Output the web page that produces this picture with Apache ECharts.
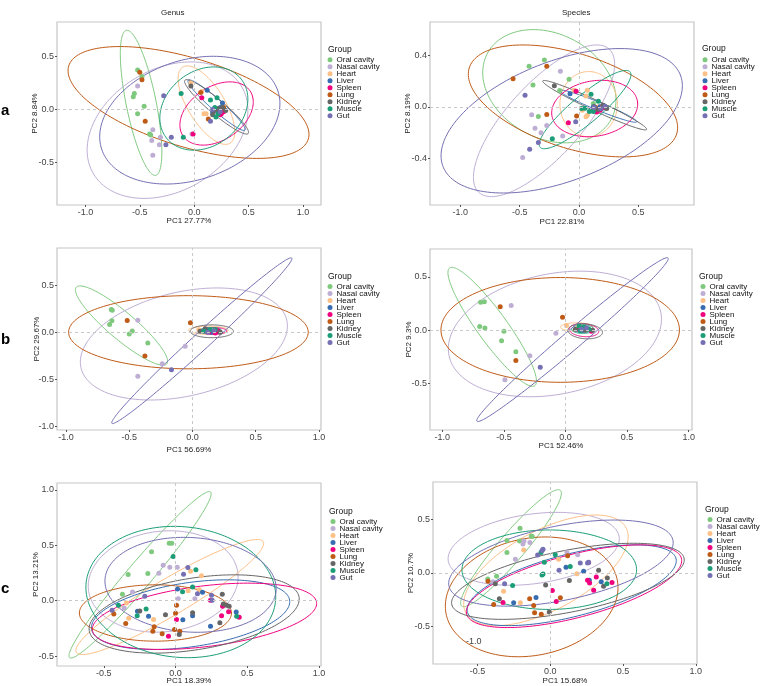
<!DOCTYPE html>
<html><head><meta charset="utf-8">
<script src="https://cdn.jsdelivr.net/npm/echarts@6/dist/echarts.min.js"></script>
<style>html,body{margin:0;padding:0;background:#fff}#c{width:760px;height:686px}</style>
</head><body><div id="c"></div>
<script>
const groups = ['Oral cavity','Nasal cavity','Heart','Liver','Spleen','Lung','Kidney','Muscle','Gut'];
const colors = ['#7FC97F','#BEAED4','#FDC086','#386CB0','#F0027F','#BF5B17','#666666','#1B9E77','#7570B3'];
const panelTitles = ['Genus','Species'];
const rowLabels = ['a','b','c'];
const xNames = ['PC1 27.77%','PC1 22.81%','PC1 56.69%','PC1 52.46%','PC1 18.39%','PC1 15.68%'];
const yNames = ['PC2 8.84%','PC2 8.19%','PC2 29.67%','PC2 9.3%','PC2 13.21%','PC2 10.7%'];
const xTicks = [[-1,-0.5,0,0.5,1],[-1,-0.5,0,0.5],[-1,-0.5,0,0.5,1],[-1,-0.5,0,0.5,1],[-0.5,0,0.5,1],[-0.5,0,0.5,1]];
const yTicks = [[-0.5,0,0.5],[-0.4,0,0.4],[-1,-0.5,0,0.5],[-0.5,0,0.5],[-0.5,0,0.5,1],[-0.5,0,0.5]];
const xRange = [[-1.261,1.166],[-1.256,0.969],[-1.071,1.016],[-1.1,1.027],[-0.826,1.014],[-0.806,1.008]];
const yRange = [[-0.897,0.822],[-0.761,0.658],[-1.036,0.9],[-0.937,0.763],[-0.589,1.061],[-0.854,0.854]];

// points per group (order of `groups`)
const ptsGenusA = [
 [[-0.52,0.37],[-0.48,0.31],[-0.55,0.15],[-0.56,0.12],[-0.46,0.03],[-0.52,-0.04],[-0.41,-0.23],[-0.40,-0.24]],
 [[-0.52,0.22],[-0.38,-0.19],[-0.31,-0.26],[-0.39,-0.29],[-0.32,-0.33],[-0.38,-0.43],[-0.02,-0.23]],
 [[-0.03,0.25],[0.07,0.17],[0.09,-0.04],[0.11,-0.04],[0.21,-0.01],[0.27,0.03]],
 [[0.12,0.18],[0.26,0.06],[0.20,0.0],[0.24,0.02],[0.17,-0.03],[0.28,-0.01]],
 [[0.07,0.11],[-0.01,-0.23],[0.22,-0.03],[0.25,-0.04],[0.27,-0.02],[0.24,-0.05]],
 [[-0.50,0.35],[-0.48,0.28],[-0.45,-0.11],[0.06,0.16],[0.13,-0.09],[0.27,0.02]],
 [[-0.03,0.22],[0.19,-0.01],[0.22,0.01],[0.26,0.02],[0.17,-0.05],[0.29,-0.01]],
 [[-0.12,0.15],[-0.10,-0.26],[0.15,0.09],[0.21,0.11],[0.19,0.02],[0.22,-0.04],[0.20,-0.07]],
 [[-0.28,0.13],[-0.26,-0.33],[-0.21,-0.26],[0.15,-0.11],[0.17,0.0],[0.24,-0.02]]
];
const ptsSpeciesA = [
 [[-0.421,0.315],[-0.292,0.364],[-0.388,0.170],[-0.084,0.214],[-0.343,-0.075],[-0.163,0.126],[0.121,0.026]],
 [[-0.157,0.276],[-0.399,-0.062],[-0.272,-0.145],[-0.371,-0.165],[-0.320,-0.201],[-0.138,-0.225],[-0.475,-0.392]],
 [[-0.042,0.129],[0.070,0.129],[0.059,0.085],[0.028,-0.026],[0.070,-0.065],[0.059,-0.077],[0.163,0.0]],
 [[-0.076,0.101],[0.177,0.0],[0.149,-0.013],[0.191,-0.013],[0.121,0.0]],
 [[-0.025,0.121],[-0.090,-0.124],[0.177,-0.026],[0.211,-0.005],[0.149,-0.039]],
 [[-0.556,0.217],[-0.272,0.315],[-0.272,-0.059],[-0.020,-0.070],[0.199,0.005],[0.135,-0.005]],
 [[-0.208,0.163],[0.129,0.0],[0.163,-0.021],[0.205,0.013],[0.233,-0.013]],
 [[0.101,0.098],[0.022,-0.013],[0.051,-0.010],[0.087,-0.036],[-0.225,-0.248],[0.163,0.044],[0.121,-0.036]],
 [[-0.455,0.090],[-0.416,-0.328],[-0.343,-0.276],[-0.028,-0.116],[0.126,-0.005],[0.183,-0.013],[0.219,0.005]]
];
const ptsGenusB = [
 [[-0.642,0.246],[-0.634,0.239],[-0.637,0.125],[-0.655,0.086],[-0.476,0.018],[-0.5,-0.014],[-0.353,-0.111]],
 [[-0.432,0.132],[-0.058,-0.146],[-0.239,-0.332],[-0.432,-0.464]],
 [[0.05,0.03],[0.11,0.02],[0.16,0.015]],
 [[0.11,0.03],[0.19,0.01],[0.15,0.005]],
 [[0.13,0.01],[0.2,0.02],[0.18,-0.005]],
 [[-0.516,0.129],[-0.376,-0.25],[-0.016,0.104]],
 [[0.10,0.04],[0.22,0.005],[0.06,0.015]],
 [[0.14,0.03],[0.09,0.015],[0.18,0.03]],
 [[-0.166,-0.396],[0.17,0.02],[0.12,0.005]]
];
const ptsSpeciesB = [
 [[-0.689,0.262],[-0.659,0.268],[-0.697,0.035],[-0.654,0.022],[-0.5,-0.009],[-0.519,-0.098],[-0.403,-0.202]],
 [[-0.441,0.233],[-0.078,-0.028],[-0.289,-0.240],[-0.492,-0.464]],
 [[0.008,0.044],[0.10,0.03],[0.18,0.01]],
 [[0.12,0.02],[0.17,0.01],[0.14,0.0]],
 [[0.15,0.02],[0.21,-0.01],[0.11,0.01]],
 [[-0.530,0.221],[-0.024,0.123],[-0.403,-0.284]],
 [[0.16,0.0],[0.08,0.01],[0.22,0.0]],
 [[0.11,0.04],[0.15,0.03],[0.19,0.01],[0.12,-0.005]],
 [[-0.205,-0.347],[0.17,0.02],[0.13,0.01]]
];
const ptsGenusC = [
 [[-0.167,0.442],[-0.330,0.236],[-0.193,0.245],[-0.370,0.057],[-0.044,0.517],[-0.026,0.517]],
 [[-0.086,0.320],[-0.040,0.302],[0.012,0.302],[-0.116,0.248],[-0.3,0.078],[-0.358,-0.066],[0.019,0.018],[0.135,0.018]],
 [[0.105,0.266],[0.181,0.224],[0.088,0.090],[0.165,0.099],[-0.326,-0.158],[-0.153,-0.170],[-0.342,-0.021]],
 [[0.014,0.105],[0.188,0.075],[-0.265,-0.096],[-0.188,-0.141],[0.051,-0.173],[0.119,-0.135],[0.244,-0.230],[0.423,-0.102]],
 [[0.244,0.003],[0.328,-0.051],[0.370,-0.099],[0.444,-0.149],[0.321,-0.135],[0.007,-0.170],[-0.049,-0.320]],
 [[0.007,-0.042],[0,-0.114],[-0.430,-0.120],[-0.347,-0.206],[-0.149,-0.236],[-0.158,-0.275],[-0.093,-0.299],[-0.007,-0.260],[0.030,-0.275]],
 [[0.326,0.057],[-0.249,-0.093],[-0.070,-0.126],[0.119,-0.108],[0.333,-0.030],[0.356,-0.042],[0.374,-0.051],[0.309,-0.2],[0.026,-0.305]],
 [[-0.016,0.398],[0.142,0.278],[0.119,0.123],[0.049,0.081],[-0.205,-0.075],[-0.398,-0.042],[-0.267,-0.135],[0.426,-0.141]],
 [[0.086,0.299],[0.056,0.239],[0.153,0.063],[0.251,0.048],[-0.214,0.039],[-0.442,-0.087],[0.256,0.003]]
];
const ptsSpeciesC = [
 [[-0.208,0.419],[-0.298,0.304],[-0.211,0.301],[-0.131,0.348],[-0.124,0.342],[-0.298,0.193],[-0.430,-0.056],[-0.369,-0.031]],
 [[-0.181,0.301],[-0.188,0.273],[-0.140,0.286],[-0.240,0.130],[-0.394,-0.081],[0.114,0.193],[0.188,0.171]],
 [[-0.183,0.217],[-0.321,-0.171],[-0.206,-0.280],[0.057,0.130],[0.183,-0.006]],
 [[0.108,0.053],[0.229,0.016],[-0.098,-0.230],[-0.252,-0.280],[0.268,-0.068],[0.350,-0.081]],
 [[0.014,-0.165],[0.041,-0.267],[-0.325,-0.276],[0.256,-0.068],[0.270,-0.093],[0.316,-0.037],[0.424,-0.090],[0.298,-0.161],[0.263,0.099]],
 [[0.119,0.161],[-0.428,-0.078],[-0.142,-0.242],[-0.114,-0.304],[0.069,-0.233],[-0.108,-0.373],[-0.062,-0.388],[-0.389,-0.295]],
 [[-0.032,-0.112],[0.131,-0.071],[-0.350,-0.242],[0.332,0.025],[0.392,-0.047],[0.366,-0.124],[-0.007,-0.366],[-0.378,-0.102]],
 [[-0.064,0.193],[-0.041,0.102],[0.034,0.171],[0.137,0.062],[-0.050,-0.009],[-0.057,-0.019],[-0.259,-0.118],[0.389,-0.102]],
 [[-0.087,0.168],[-0.050,0.224],[-0.057,0.211],[0.206,0.093],[0.256,0.093],[0.263,0.102],[0.060,0.025],[-0.314,-0.102]]
];
// ellipses per group: [cx, cy, ux, uy, vx, vy] (centre and two conjugate semi-axes)
const ellGenusA = [
 [-0.488,0.0625,-0.135,0.681,0.135,0.028],
 [-0.245,-0.194,0.707,0,0.215,0.641],
 [0.113,0.041,0.215,-0.359,0.147,0.084],
 [0.206,0.041,0.261,-0.234,0.034,0.04],
 [0.206,-0.0375,0.314,0,0.123,0.297],
 [-0.052,0.066,1.101,-0.344,0.120,0.397],
 [0.206,0.025,0.291,-0.25,0.043,0.053],
 [0.089,0.009,0.394,0,0.092,0.391],
 [-0.040,-0.1,0.800,0,0.215,0.600]
];
const ellSpeciesA = [
 [-0.25,0.16,0.545,0,-0.135,0.439],
 [-0.295,-0.108,0.396,0,0.444,0.588],
 [0.081,0.021,0.242,0,0,0.253],
 [0.163,0.005,0.323,-0.121,0.013,0.029],
 [0.132,-0.013,0.358,0,0.056,0.219],
 [-0.051,0.046,0.775,0,-0.421,0.434],
 [0.132,0.013,0.438,-0.188,0.019,0.037],
 [0.051,-0.021,0.379,0.292,-0.076,0.083],
 [-0.146,-0.108,0.890,0,0.492,0.560]
];
const ellGenusB = [
 [-0.561,0.075,0.358,-0.407,0.068,0.111],
 [-0.068,-0.121,0.775,0,0.263,0.596],
 [0.126,0.025,0.158,0,0,0.043],
 [0.153,0.018,0.074,0,0,0.029],
 [0.166,0.018,0.105,0,0,0.036],
 [-0.032,0.004,0.947,0,0,0.389],
 [0.153,0.014,0.171,0,0,0.068],
 [0.145,0.025,0.084,0,0,0.029],
 [0.074,-0.086,0.711,0.879,-0.045,0.066]
];
const ellSpeciesB = [
 [-0.595,0.032,0.346,-0.552,0.097,0.085],
 [-0.086,-0.035,0.841,0,0.203,0.590],
 [0.09,0.03,0.13,0,0,0.04],
 [0.14,0.01,0.07,0,0,0.03],
 [0.15,0.0,0.12,-0.01,0,0.06],
 [-0.043,0.003,0.968,0,0,0.492],
 [0.16,-0.01,0.14,-0.01,0,0.07],
 [0.14,0.01,0.09,0,0,0.04],
 [0.057,-0.088,0.776,0.767,-0.049,0.066]
];
const ellGenusC = [
 [-0.247,0.233,0.491,0.747,-0.067,0.073],
 [-0.086,0.173,0.520,0,0.047,0.457],
 [-0.040,0.033,0.651,0.499,-0.065,0.141],
 [0.105,-0.126,0.642,0,0.256,0.314],
 [0.202,-0.141,0.721,0,0.302,0.299],
 [-0.140,-0.111,0.530,0,0,0.254],
 [0.130,-0.120,0.677,0,0.279,0.353],
 [0.037,0.078,0.660,0,-0.047,0.592],
 [0.105,0.143,0.595,0,-0.047,0.428]
];
const ellSpeciesC = [
 [-0.270,0.233,0.339,0.543,-0.070,0.081],
 [-0.114,0.227,0.566,0,0.160,0.342],
 [-0.030,0.025,0.449,0,0.343,0.519],
 [0.147,-0.115,0.572,0,0.435,0.379],
 [0.163,-0.124,0.581,0,0.458,0.388],
 [-0.128,-0.224,0.586,0,0.092,0.562],
 [0.121,-0.078,0.660,0,0.451,0.357],
 [-0.007,0.031,0.6,0,0,0.373],
 [0.073,0.093,0.679,0,0.366,0.404]
];

const panelPts = [ptsGenusA, ptsSpeciesA, ptsGenusB, ptsSpeciesB, ptsGenusC, ptsSpeciesC];
const panelEll = [ellGenusA, ellSpeciesA, ellGenusB, ellSpeciesB, ellGenusC, ellSpeciesC];

// layout (pixels)
const gridBoxes = [[57,22,264,183],[430,22,264,183],[57,248,264,182],[430,249,262,181],[57,483,264,184],[433,482,264,183]];
const xNameGap = [12,13,16,12,11,13];
const yNameGap = [18,18,16,17,17,18];
const legendPos = [[327.5,55.8],[702.5,55.8],[327.5,282.5],[700.5,282.5],[330.5,517.5],[707.5,515.5]];
const groupTitlePos = [[328,50],[702,49.5],[328,277],[699,277],[329,512],[705,510]];

const FONT = '"Liberation Sans", Arial, Helvetica, sans-serif';
const fmt = v => v.toFixed(1);

const grid = [], xAxis = [], yAxis = [], series = [], legend = [], graphic = [];
for (let p = 0; p < 6; p++) {
  const b = gridBoxes[p];
  grid.push({left:b[0], top:b[1], width:b[2], height:b[3], show:true, borderColor:'#c6c6c6', borderWidth:1.2, backgroundColor:'transparent'});
  xAxis.push({type:'value', gridIndex:p, min:xRange[p][0], max:xRange[p][1], position:'bottom',
    name:xNames[p], nameLocation:'middle', nameGap:xNameGap[p], nameMoveOverlap:false,
    nameTextStyle:{fontSize:8, color:'#222', fontFamily:FONT},
    axisLine:{show:false, onZero:false}, splitLine:{show:false},
    axisTick:{show:true, length:2, lineStyle:{color:'#555'}, customValues:xTicks[p]},
    axisLabel:{fontSize:9, color:'#444', fontFamily:FONT, margin:3, customValues:xTicks[p], formatter:fmt}});
  yAxis.push({type:'value', gridIndex:p, min:yRange[p][0], max:yRange[p][1], position:'left',
    name:yNames[p], nameLocation:'middle', nameGap:yNameGap[p], nameRotate:90, nameMoveOverlap:false,
    nameTextStyle:{fontSize:8, color:'#222', fontFamily:FONT},
    axisLine:{show:false, onZero:false}, splitLine:{show:false},
    axisTick:{show:true, length:2, lineStyle:{color:'#555'}, customValues:yTicks[p]},
    axisLabel:{fontSize:9, color:'#444', fontFamily:FONT, margin:3, customValues:yTicks[p], formatter:fmt}});
  // zero reference lines
  series.push({type:'line', xAxisIndex:p, yAxisIndex:p, data:[], silent:true,
    markLine:{silent:true, symbol:'none', label:{show:false},
      lineStyle:{type:[3,3], color:'#c8c8c8', width:1},
      data:[{xAxis:0},{yAxis:0}]}});
  for (let g = 0; g < groups.length; g++) {
    series.push({type:'scatter', name:groups[g], xAxisIndex:p, yAxisIndex:p,
      data:panelPts[p][g], symbol:'circle', symbolSize:5,
      itemStyle:{color:colors[g], opacity:1}, silent:true});
  }
  for (let g = 0; g < groups.length; g++) {
    const col = colors[g];
    series.push({type:'custom', name:groups[g], xAxisIndex:p, yAxisIndex:p, clip:true, silent:true,
      encode:{x:0, y:1}, itemStyle:{color:col},
      data:[panelEll[p][g]],
      renderItem:function(params, api){
        const cx=api.value(0), cy=api.value(1), ux=api.value(2), uy=api.value(3), vx=api.value(4), vy=api.value(5);
        const pts=[];
        for (let i=0;i<=160;i++){
          const t=i/160*2*Math.PI, c=Math.cos(t), s=Math.sin(t);
          pts.push(api.coord([cx+ux*c+vx*s, cy+uy*c+vy*s]));
        }
        return {type:'polyline', shape:{points:pts}, style:{stroke:col, fill:null, lineWidth:1}};
      }});
  }
  legend.push({orient:'vertical', left:legendPos[p][0], top:legendPos[p][1], padding:0,
    itemWidth:5, itemHeight:5, itemGap:-1, selectedMode:false, icon:'circle',
    textStyle:{fontSize:8, lineHeight:7, color:'#111', fontFamily:FONT, padding:[0,0,0,-1]},
    data:groups.slice()});
  graphic.push({type:'text', left:groupTitlePos[p][0], top:groupTitlePos[p][1]-5,
    style:{text:'Group', fontSize:8.5, fill:'#111', fontFamily:FONT}});
}
graphic.push({type:'text', left:172-11, top:9, style:{text:panelTitles[0], fontSize:8, fill:'#222', fontFamily:FONT}});
graphic.push({type:'text', left:575-13, top:9, style:{text:panelTitles[1], fontSize:8, fill:'#222', fontFamily:FONT}});
const rowY = [103, 332, 581];
for (let r = 0; r < 3; r++) {
  graphic.push({type:'text', left:1, top:rowY[r], style:{text:rowLabels[r], fontSize:15, fontWeight:'bold', fill:'#000', fontFamily:FONT}});
}
graphic.push({type:'text', left:466, top:637, style:{text:'-1.0', fontSize:9, fill:'#444', fontFamily:FONT}});

const chart = echarts.init(document.getElementById('c'), null, {renderer:'canvas'});
chart.setOption({animation:false, backgroundColor:'#fff', grid, xAxis, yAxis, series, legend, graphic});
</script></body></html>
